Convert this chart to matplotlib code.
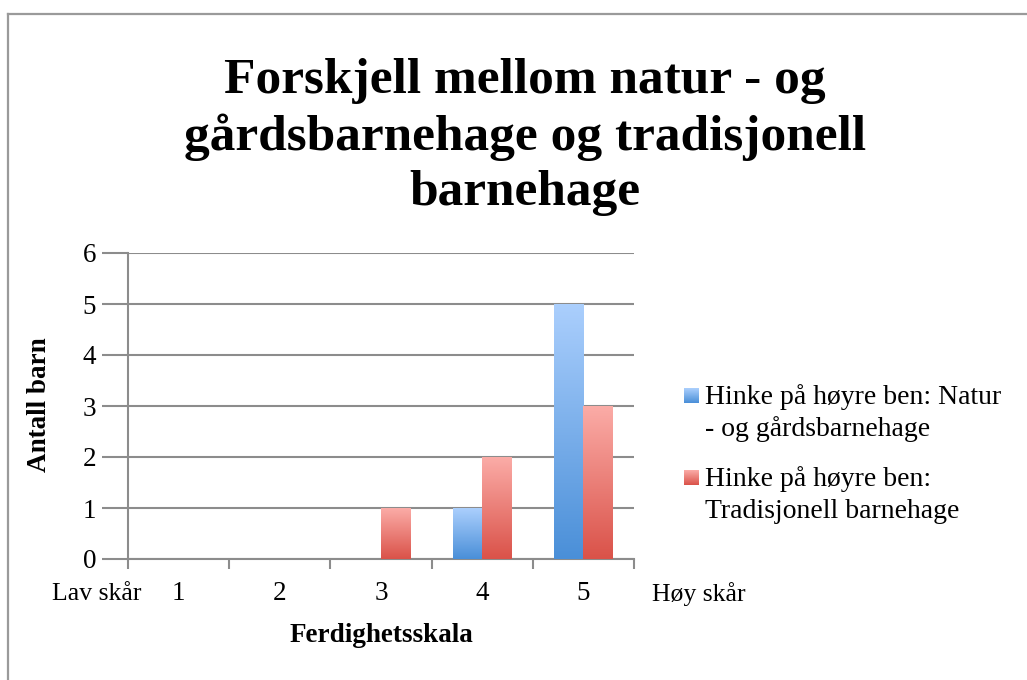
import numpy as np
import matplotlib
matplotlib.use("Agg")
import matplotlib.pyplot as plt
from matplotlib.colors import LinearSegmentedColormap
from matplotlib.lines import Line2D

# ---- data ----
categories = ["1", "2", "3", "4", "5"]
series_names = ["Hinke på høyre ben: Natur\n- og gårdsbarnehage",
                "Hinke på høyre ben:\nTradisjonell barnehage"]
natur_values = [0, 0, 0, 1, 5]
tradisjonell_values = [0, 0, 1, 2, 3]
y_ticks = [0, 1, 2, 3, 4, 5, 6]
title = "Forskjell mellom natur - og\ngårdsbarnehage og tradisjonell\nbarnehage"
x_label = "Ferdighetsskala"
y_label = "Antall barn"
low_label = "Lav skår"
high_label = "Høy skår"

# ---- style ----
FONT = "Liberation Serif"
plt.rcParams["font.family"] = [FONT, "DejaVu Serif"]
blue_top, blue_bot = "#abcffd", "#4a8fd8"
red_top, red_bot = "#fbaca7", "#da5249"
grid_col = "#8c8c8c"

W, H = 1027, 680
fig = plt.figure(figsize=(W / 100, H / 100), dpi=100)
fig.patch.set_facecolor("white")

# outer frame (left and top visible)
fig.add_artist(Line2D([8 / W, 8 / W], [0, 1 - 14 / H], transform=fig.transFigure,
                      color="#9a9a9a", lw=1.6))
fig.add_artist(Line2D([8 / W, 1], [1 - 14 / H, 1 - 14 / H], transform=fig.transFigure,
                      color="#9a9a9a", lw=1.6))

ax_l, ax_r, ax_t, ax_b = 128, 634, 253, 559
ax = fig.add_axes([ax_l / W, 1 - ax_b / H, (ax_r - ax_l) / W, (ax_b - ax_t) / H])
ax.set_facecolor("white")

x = np.arange(len(categories))
bw = 0.29


def gradient_bars(xpos, vals, top, bot):
    cmap = LinearSegmentedColormap.from_list("g", [bot, top])
    bars = ax.bar(xpos, vals, width=bw, color="none", edgecolor="none", zorder=3)
    grad = np.linspace(0, 1, 256).reshape(-1, 1)
    for b in bars:
        h = b.get_height()
        if h <= 0:
            continue
        x0 = b.get_x()
        im = ax.imshow(grad, cmap=cmap, origin="lower", aspect="auto",
                       extent=[x0, x0 + b.get_width(), 0, h], zorder=3,
                       interpolation="bilinear")
        im.set_clip_path(b)
    return bars


gradient_bars(x - bw / 2, natur_values, blue_top, blue_bot)
gradient_bars(x + bw / 2, tradisjonell_values, red_top, red_bot)

ax.set_xlim(-0.5, len(categories) - 0.5)
ax.set_ylim(0, 6)
ax.set_yticks(y_ticks)
ax.set_yticklabels([str(v) for v in y_ticks])
ax.yaxis.grid(True, color=grid_col, lw=1.5, zorder=1)
ax.set_axisbelow(True)

ax.set_xticks(x)
ax.set_xticklabels(categories)
ax.set_xticks(np.arange(-0.5, len(categories)), minor=True)
ax.tick_params(axis="x", which="major", length=0, pad=16, labelsize=19.5)
ax.tick_params(axis="x", which="minor", length=7, width=1.5, color=grid_col, direction="out")
ax.tick_params(axis="y", which="major", length=19, width=1.5, color=grid_col, pad=4,
               labelsize=19.5)

for s in ["top", "right"]:
    ax.spines[s].set_visible(False)
for s in ["left", "bottom"]:
    ax.spines[s].set_color(grid_col)
    ax.spines[s].set_linewidth(1.5)

# low / high labels
fig.text(97 / W, 1 - 594 / H, low_label, ha="center", va="center", fontsize=18.5)
fig.text(699 / W, 1 - 594 / H, high_label, ha="center", va="center", fontsize=18.5)

# axis titles
fig.text(381 / W, 1 - 636 / H, x_label, ha="center", va="center", fontsize=19.5,
         fontweight="bold")
fig.text(40 / W, 1 - 405 / H, y_label, ha="center", va="center", fontsize=19.5,
         fontweight="bold", rotation=90)

# title
fig.text(525 / W, 1 - 137 / H, title, ha="center", va="center", fontsize=37,
         fontweight="bold", linespacing=1.27)

# legend (manual)
leg_entries = [(series_names[0], blue_top, blue_bot, 388),
               (series_names[1], red_top, red_bot, 470)]
for name, top, bot, ytop in leg_entries:
    lax = fig.add_axes([684 / W, 1 - (ytop + 15) / H, 15 / W, 15 / H])
    cmap = LinearSegmentedColormap.from_list("g", [bot, top])
    lax.imshow(np.linspace(0, 1, 64).reshape(-1, 1), cmap=cmap, origin="lower",
               aspect="auto", interpolation="bilinear")
    lax.set_axis_off()
    lines = name.split("\n")
    for i, ln in enumerate(lines):
        fig.text(705 / W, 1 - (ytop + 9 + i * 32) / H, ln, ha="left", va="center",
                 fontsize=20)

fig.savefig("out.png", dpi=100, facecolor="white")
